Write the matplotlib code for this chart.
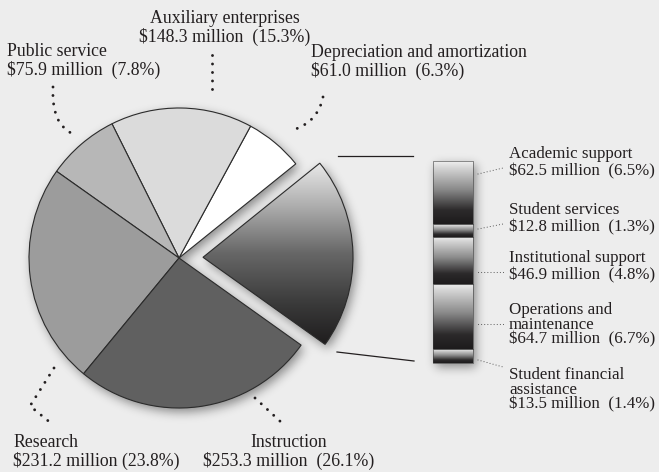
import matplotlib
matplotlib.use("Agg")
import matplotlib.pyplot as plt
import numpy as np
from matplotlib.colors import LinearSegmentedColormap
from matplotlib.path import Path
from matplotlib.patches import PathPatch

plt.rcParams["font.family"] = ["Liberation Serif", "DejaVu Serif"]

# --- data (millions of dollars) ---
pie_names = ["Depreciation and amortization", "Auxiliary enterprises",
             "Public service", "Research", "Instruction"]
pie_values = [61.0, 148.3, 75.9, 231.2, 253.3]
pie_pcts = [6.3, 15.3, 7.8, 23.8, 26.1]
pie_colors = ["#ffffff", "#dbdbdb", "#b7b7b7", "#9c9c9c", "#606060"]

group_names = ["Academic support", "Student services", "Institutional support",
               "Operations and\nmaintenance", "Student financial\nassistance"]
group_values = [62.5, 12.8, 46.9, 64.7, 13.5]
group_pcts = [6.5, 1.3, 4.8, 6.7, 1.4]

W, H = 659, 472
BG = "#ededed"
INK = "#231f20"

fig = plt.figure(figsize=(W / 100, H / 100), dpi=100, facecolor=BG)
ax = fig.add_axes([0, 0, 1, 1])

# pie: exploded group first, then the rest clockwise in data (=counter-clockwise on screen, y is flipped)
values = [sum(group_values)] + pie_values
wedges, _ = ax.pie(values, center=(179, 258), radius=150, startangle=35.5,
                   counterclock=False, explode=[24, 0, 0, 0, 0, 0],
                   colors=["none"] + pie_colors,
                   wedgeprops=dict(edgecolor="#2b2b2b", linewidth=0.8))
wedges[0].set_zorder(2)

# stacked bar for the group
bar_top, bar_len = 161, 202
scale = bar_len / sum(group_values)
heights = np.array(group_values) * scale
bottoms = bar_top + np.concatenate([[0], np.cumsum(heights)[:-1]])
bars = ax.bar([453] * len(group_values), heights, bottom=bottoms, width=40,
              color="none", edgecolor="#3a3a3a", linewidth=0.4, zorder=2)

# gradients
wedge_cmap = LinearSegmentedColormap.from_list(
    "w", [(0, "#eaeaea"), (0.25, "#ababab"), (0.5, "#676767"), (0.78, "#3a3a3a"), (1, "#1f1d1e")])
bar_cmap = LinearSegmentedColormap.from_list(
    "b", [(0, "#f0f0f0"), (0.12, "#d2d2d2"), (0.45, "#8a8a8a"), (0.78, "#2c2a2b"), (1, "#1d1b1c")])
grad = np.linspace(0, 1, 256).reshape(-1, 1)

verts = wedges[0].get_patch_transform().transform(wedges[0].get_path().vertices)
x0, y0 = verts.min(axis=0)
x1, y1 = verts.max(axis=0)
im = ax.imshow(grad, cmap=wedge_cmap, extent=(x0, x1, y1, y0), aspect="auto",
               interpolation="bilinear", zorder=1.5)
im.set_clip_path(wedges[0])

for b in bars:
    bx, by = b.get_x(), b.get_y()
    im = ax.imshow(grad, cmap=bar_cmap, extent=(bx, bx + b.get_width(), by + b.get_height(), by),
                   aspect="auto", interpolation="bilinear", zorder=1.5)
    im.set_clip_path(b)

# soft drop shadow under pie and bar
yy, xx = np.mgrid[0:H, 0:W] + 0.5
pts = np.column_stack([xx.ravel() - 3, yy.ravel() - 4])
mask = np.zeros(H * W, bool)
for p in list(wedges) + list(bars):
    path = p.get_patch_transform().transform_path(p.get_path())
    mask |= path.contains_points(pts)
mask = mask.reshape(H, W).astype(float)
s = 5
k = np.exp(-0.5 * (np.arange(-3 * s, 3 * s + 1) / s) ** 2)
k /= k.sum()
mask = np.apply_along_axis(lambda r: np.convolve(r, k, "same"), 1, mask)
mask = np.apply_along_axis(lambda c: np.convolve(c, k, "same"), 0, mask)
shadow = np.zeros((H, W, 4))
shadow[..., 3] = mask * 0.42
ax.imshow(shadow, extent=(0, W, H, 0), zorder=0.5, interpolation="bilinear")

# connector lines from exploded slice to bar
ax.plot([338, 413], [156, 156], color=INK, lw=0.9)
ax.plot([337, 414], [352, 361], color=INK, lw=0.9)

# labels (y = baseline of the last line)
def label(name, v, p, gap="  "):
    return f"{name}\n${v:.1f} million{gap}({p}%)"

pie_label_pos = [(311, 76, "left"), (225, 42, "center"), (7, 75, "left"),
                 (13, 466, "left"), (289, 466, "center")]
for (x, y, ha), n, v, p in zip(pie_label_pos, pie_names, pie_values, pie_pcts):
    gap = " " if n == "Research" else "  "
    ax.text(x, y, label(n, v, p, gap), ha=ha, va="baseline", fontsize=12.8,
            color=INK, linespacing=1.05, multialignment=ha)

group_label_y = [175, 231, 279, 343, 408]
for y, n, v, p in zip(group_label_y, group_names, group_values, group_pcts):
    ls = 0.86 if "\n" in n else 1.08
    ax.text(509, y, label(n, v, p), ha="left", va="baseline", fontsize=12.2,
            color=INK, linespacing=ls)

# dotted leaders
big = dict(color=INK, lw=2.1, linestyle=(0, (0.01, 2.9)), dash_capstyle="round")
small = dict(color="#444444", lw=0.8, linestyle=(0, (0.01, 2.8)), dash_capstyle="round")

def curve(p0, c, p1, **kw):
    ax.add_patch(PathPatch(Path([p0, c, p1], [Path.MOVETO, Path.CURVE3, Path.CURVE3]),
                           fill=False, lw=kw["lw"], linestyle=kw["linestyle"],
                           edgecolor=kw["color"], capstyle="round"))

ax.plot([212, 212], [55, 95], **big)
curve((53, 87), (51, 124), (73, 134), **big)
curve((323, 97), (318, 122), (293, 130), **big)
ax.plot([54, 30, 52], [368, 406, 424], **big)
ax.plot([255, 282], [398, 423], **big)

for (xa, ya), (xb, yb) in [((478, 174), (503, 168)), ((478, 229), (503, 224)),
                           ((478, 272), (505, 272)), ((478, 324), (503, 324)),
                           ((478, 360), (503, 367))]:
    ax.plot([xa, xb], [ya, yb], **small)

ax.set_xlim(0, W)
ax.set_ylim(H, 0)
ax.set_aspect("equal")
ax.set_axis_off()

fig.savefig("out.png", dpi=100, facecolor=BG)
